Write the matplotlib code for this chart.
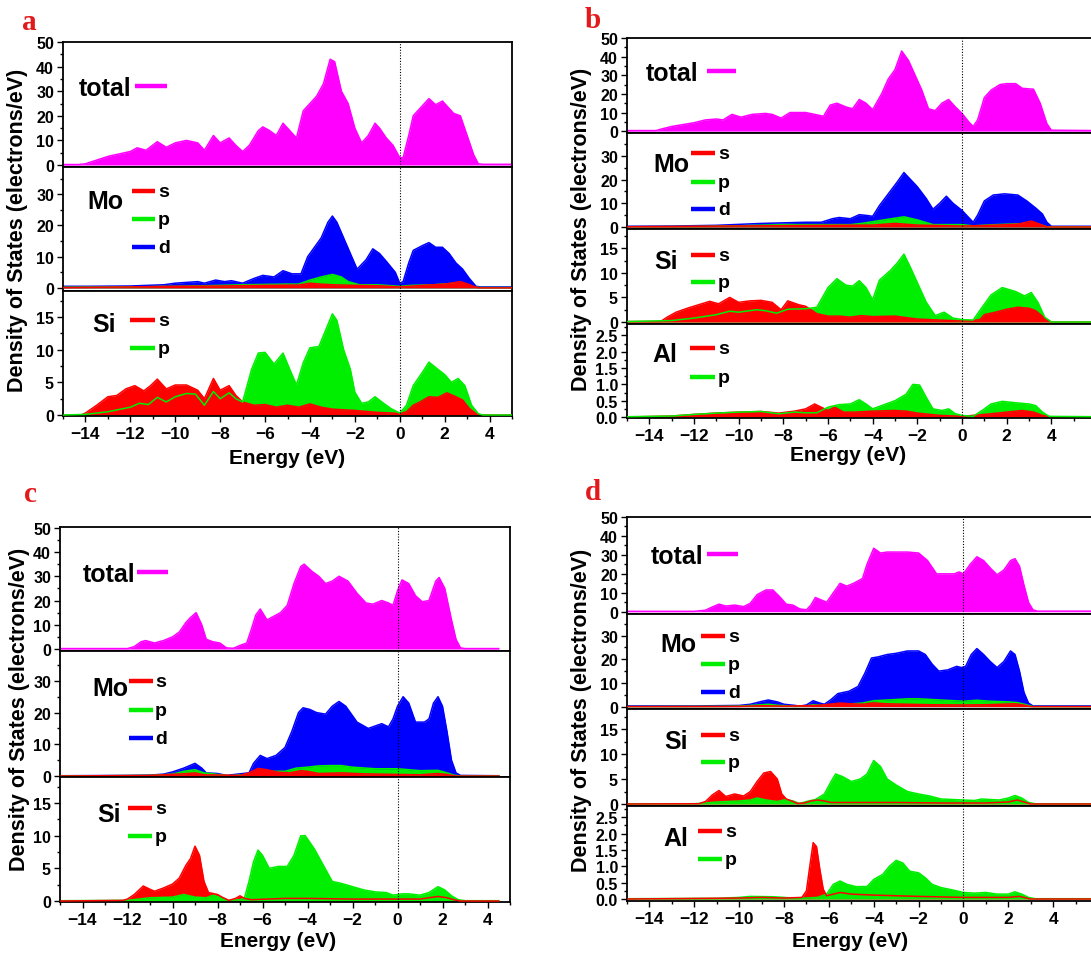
import matplotlib
matplotlib.use("Agg")
import matplotlib.pyplot as plt
from matplotlib.lines import Line2D
from matplotlib.ticker import MultipleLocator, FormatStrFormatter

plt.rcParams['font.family'] = ['Liberation Sans', 'DejaVu Sans']
plt.rcParams['font.weight'] = 'bold'

W, H = 1091, 954

# ---- data: (energy eV, DOS) ----
a_total = [(-15, 0.2), (-14.3, 0.2), (-14, 0.5), (-13.5, 2), (-13, 3.5), (-12.5, 4.5), (-12, 5.5), (-11.7, 7),
           (-11.3, 6), (-10.8, 9.5), (-10.4, 7.2), (-10, 9), (-9.5, 10), (-9, 9), (-8.7, 6), (-8.3, 12), (-8, 9),
           (-7.6, 11), (-7.3, 8), (-7, 5.5), (-6.7, 8), (-6.3, 14), (-6.1, 15.5), (-5.8, 14), (-5.5, 12),
           (-5.2, 17), (-4.9, 14), (-4.6, 11), (-4.3, 22), (-4, 25), (-3.7, 28), (-3.4, 33), (-3.1, 43),
           (-2.9, 42), (-2.6, 30), (-2.3, 25), (-2, 15), (-1.7, 9), (-1.4, 12), (-1.1, 17), (-0.9, 15),
           (-0.6, 11), (-0.3, 8), (0, 3), (0.15, 3), (0.4, 12), (0.6, 20), (1, 24), (1.3, 27), (1.6, 24.5),
           (1.9, 26), (2.2, 23), (2.4, 21), (2.7, 20), (3, 12), (3.3, 4), (3.5, 0.5), (3.7, 0.3), (5, 0.3)]
a_mo_d = [(-15, 0.5), (-14, 0.5), (-12, 0.6), (-10.5, 1.0), (-10, 1.5), (-9, 2), (-8.7, 1.5), (-8.2, 2.5),
          (-7.8, 2), (-7.5, 2.3), (-7, 1.5), (-6.5, 3), (-6.1, 4), (-5.6, 3.5), (-5.2, 5.5), (-4.8, 4.5),
          (-4.4, 4.5), (-4.1, 10), (-3.8, 13), (-3.5, 16), (-3.2, 21), (-3.0, 23), (-2.8, 21), (-2.5, 16),
          (-2.2, 11), (-1.9, 6), (-1.5, 9), (-1.2, 12.5), (-0.9, 11), (-0.6, 8.5), (-0.2, 5), (0, 1.5),
          (0.15, 2), (0.4, 8), (0.6, 12), (1.0, 13.5), (1.3, 14.5), (1.6, 13), (1.9, 13), (2.2, 11), (2.5, 8),
          (2.8, 6), (3.1, 3), (3.4, 0.5), (3.6, 0.3), (5, 0.3)]
a_mo_p = [(-15, 0.2), (-12, 0.3), (-10, 0.5), (-8, 0.8), (-7, 1), (-5, 1.2), (-4.5, 1.2), (-4, 2.5), (-3.5, 3.5),
          (-3, 4.3), (-2.6, 3.5), (-2.3, 2), (-1.8, 1), (-1, 1), (0, 0.5), (0.5, 0.8), (1.5, 1), (2.5, 1.5),
          (2.8, 1.2), (3.3, 0.3), (3.6, 0.1), (5, 0.1)]
a_mo_s = [(-15, 0.1), (-12, 0.3), (-10, 0.5), (-8, 0.6), (-6, 0.8), (-4.5, 0.9), (-4, 1.5), (-3.5, 1.2), (-3, 1),
          (-2, 0.8), (-1, 0.7), (0, 0.3), (1, 0.8), (2, 1.2), (2.7, 2), (3, 1.3), (3.4, 0.2), (3.6, 0), (5, 0)]
a_si_s = [(-15, 0), (-14.2, 0), (-14, 0.3), (-13.5, 1.5), (-13, 2.8), (-12.6, 3), (-12.2, 4), (-11.8, 4.5),
          (-11.4, 3.7), (-11.1, 4.5), (-10.8, 5.5), (-10.4, 4), (-10, 4.6), (-9.5, 4.6), (-9, 3.8), (-8.7, 2.5),
          (-8.3, 5.6), (-8, 3.8), (-7.6, 4.5), (-7.3, 3), (-7, 2), (-6.5, 1.5), (-6, 1.6), (-5.5, 1.2),
          (-5, 1.5), (-4.5, 1.2), (-4, 1.7), (-3.5, 1.2), (-3, 0.9), (-2, 0.7), (-1, 0.4), (-0.3, 0.3),
          (0, 0.2), (0.3, 0.5), (0.6, 1.5), (0.9, 2), (1.3, 2.8), (1.7, 2.7), (2.1, 3.4), (2.5, 2.8),
          (2.8, 2.3), (3.1, 1), (3.4, 0.2), (3.6, 0), (5, 0)]
a_si_p = [(-15, 0), (-14, 0.1), (-13, 0.5), (-12, 1.2), (-11.6, 1.8), (-11.2, 1.6), (-10.8, 2.7), (-10.4, 2),
          (-10, 2.8), (-9.5, 3.3), (-9.1, 3.2), (-8.7, 1.5), (-8.3, 3.6), (-8, 2.5), (-7.6, 3.4), (-7.3, 2.5),
          (-7, 2), (-6.6, 7), (-6.3, 9.5), (-6, 9.6), (-5.6, 7.8), (-5.2, 9.5), (-4.9, 7), (-4.6, 4.6),
          (-4.3, 8), (-4, 10.3), (-3.6, 10.5), (-3.3, 13), (-3, 15.5), (-2.8, 14.5), (-2.5, 10), (-2.2, 7),
          (-2, 3.5), (-1.7, 1.8), (-1.4, 2), (-1.1, 2.8), (-0.8, 2), (-0.4, 1), (0, 0.3), (0.3, 1.5),
          (0.6, 4.5), (1, 6.5), (1.3, 8.1), (1.7, 7), (2, 6.2), (2.3, 5), (2.6, 5.6), (2.9, 4.5), (3.2, 1.5),
          (3.5, 0.2), (3.7, 0), (5, 0)]

b_total = [(-15, 0.3), (-13.7, 0.3), (-13.5, 1), (-13, 2.5), (-12.5, 3.5), (-12, 4.5), (-11.5, 6), (-11, 6.5),
           (-10.7, 6), (-10.3, 9), (-9.9, 7.5), (-9.4, 9), (-8.8, 9.5), (-8.5, 9), (-8.1, 7), (-7.7, 10),
           (-7, 10), (-6.6, 9), (-6.2, 8), (-5.9, 14), (-5.6, 15), (-5.2, 13), (-4.9, 12), (-4.6, 17),
           (-4.3, 15), (-4, 11.5), (-3.6, 20), (-3.3, 28), (-3, 33), (-2.7, 43), (-2.4, 38), (-2.1, 30),
           (-1.8, 22), (-1.5, 12), (-1.2, 11), (-0.9, 15), (-0.6, 17), (-0.3, 13), (0, 9.5), (0.3, 5),
           (0.5, 2.5), (0.7, 6), (1, 18), (1.3, 22), (1.7, 25), (2, 25.5), (2.4, 25.5), (2.7, 23), (3.2, 22.5),
           (3.5, 15), (3.8, 4), (4.0, 0.5), (6, 0.3)]
b_mo_d = [(-15, 0.3), (-13, 0.4), (-11, 0.7), (-9, 1.5), (-7, 2), (-6.3, 2), (-5.8, 3.5), (-5.5, 4), (-5, 3.5),
          (-4.6, 5.2), (-4.2, 4.8), (-4, 4.5), (-3.7, 9), (-3.3, 14), (-2.9, 19), (-2.6, 23), (-2.3, 20),
          (-2, 17), (-1.6, 12), (-1.3, 7.5), (-1, 10), (-0.7, 13), (-0.4, 10), (0, 7), (0.3, 4), (0.5, 2),
          (0.7, 5), (1, 11), (1.4, 13.5), (1.9, 14), (2.5, 13.5), (2.9, 11), (3.3, 8), (3.6, 5.5), (3.8, 2),
          (4, 0.3), (6, 0.3)]
b_mo_p = [(-15, 0.1), (-12, 0.2), (-10, 0.5), (-8, 1), (-5, 1), (-4.5, 1.5), (-3.5, 3), (-2.6, 4.3), (-2, 3),
          (-1.3, 1), (0, 1), (0.5, 0.5), (1.5, 1), (3, 1.5), (3.2, 1.8), (3.5, 1), (3.8, 0.1), (6, 0.1)]
b_mo_s = [(-15, 0.1), (-12, 0.3), (-9, 0.5), (-6, 0.7), (-4, 0.8), (-3, 1.5), (-2, 0.8), (-1, 0.6), (0, 0.4),
          (1, 0.6), (2.5, 1.2), (3.1, 2.5), (3.4, 1.5), (3.8, 0), (6, 0)]
b_si_s = [(-15, 0.1), (-13.5, 0.1), (-13.2, 1), (-12.8, 2), (-12.3, 2.8), (-11.8, 3.5), (-11.3, 4.2),
          (-10.9, 3.7), (-10.4, 5), (-10, 4), (-9.5, 4.3), (-9, 4.4), (-8.5, 4), (-8.1, 2.5), (-7.8, 4.3),
          (-7.3, 3.5), (-7, 3.2), (-6.5, 1.7), (-6, 1.2), (-5.5, 1.2), (-5, 1), (-4.5, 1.3), (-4, 1.1),
          (-3, 1.2), (-2, 0.6), (-1, 0.4), (0, 0.2), (0.5, 0.3), (0.8, 0.5), (1, 1.5), (1.5, 2), (2, 2.6),
          (2.5, 3), (3, 2.8), (3.3, 2.3), (3.7, 0.8), (4, 0), (6, 0)]
b_si_p = [(-15, 0.1), (-13, 0.3), (-12, 0.8), (-11, 1.5), (-10.4, 2.2), (-10, 2), (-9.2, 2.5), (-8.8, 2.3),
          (-8.3, 1.8), (-7.8, 2.6), (-7, 2.7), (-6.5, 3), (-6, 7), (-5.6, 8.8), (-5.2, 7.5), (-4.9, 7.3),
          (-4.6, 8.4), (-4.3, 7), (-4, 4.5), (-3.7, 8.5), (-3.2, 10.5), (-2.9, 12), (-2.6, 13.8), (-2.3, 11),
          (-2, 8), (-1.6, 4), (-1.2, 1.3), (-0.8, 2), (-0.4, 0.8), (0, 0.5), (0.5, 0.4), (0.9, 3), (1.3, 5.5),
          (1.8, 7), (2.4, 6.2), (2.8, 5.3), (3.1, 6), (3.4, 4), (3.7, 1), (4, 0), (6, 0)]
b_al_s = [(-15, 0), (-13, 0.03), (-12, 0.08), (-11, 0.12), (-10, 0.15), (-9, 0.17), (-8.2, 0.12), (-7.5, 0.18),
          (-7, 0.25), (-6.6, 0.4), (-6.3, 0.3), (-6, 0.2), (-5.7, 0.3), (-5.3, 0.15), (-4.8, 0.15), (-4, 0.18),
          (-3, 0.2), (-2.5, 0.18), (-2, 0.12), (-1, 0.05), (0, 0.02), (1, 0.08), (2, 0.15), (2.7, 0.2),
          (3.2, 0.15), (3.6, 0.05), (4, 0), (6, 0)]
b_al_p = [(-15, 0.01), (-13, 0.03), (-12, 0.08), (-11, 0.12), (-10, 0.15), (-9, 0.17), (-8.2, 0.1),
          (-7.5, 0.15), (-7, 0.13), (-6.5, 0.13), (-6, 0.3), (-5.5, 0.38), (-5, 0.4), (-4.6, 0.53), (-4.3, 0.4),
          (-4, 0.25), (-3.6, 0.35), (-3, 0.5), (-2.5, 0.7), (-2.2, 1.0), (-1.9, 0.98), (-1.6, 0.6),
          (-1.3, 0.25), (-0.9, 0.2), (-0.6, 0.25), (-0.3, 0.1), (0, 0.05), (0.5, 0.02), (0.9, 0.2), (1.3, 0.4),
          (1.8, 0.48), (2.5, 0.43), (3, 0.4), (3.3, 0.35), (3.6, 0.15), (3.9, 0.02), (6, 0.01)]

c_total = [(-15, 0.2), (-12, 0.2), (-11.7, 1), (-11.4, 3), (-11.2, 3.5), (-10.8, 2.5), (-10.4, 3.5), (-10, 5),
           (-9.7, 7), (-9.4, 11), (-9.2, 13), (-8.95, 15), (-8.7, 10), (-8.5, 4), (-8.2, 3), (-7.9, 2.5),
           (-7.6, 0.5), (-7.3, 0.3), (-7, 1.5), (-6.7, 2.5), (-6.5, 8), (-6.3, 14), (-6.1, 16.5), (-5.8, 12),
           (-5.5, 13.5), (-5.2, 15), (-4.9, 18), (-4.6, 27), (-4.3, 34), (-4.15, 35), (-3.8, 32), (-3.5, 30),
           (-3.2, 27), (-2.9, 28), (-2.6, 30), (-2.2, 28), (-1.8, 23), (-1.4, 19), (-1.1, 18.5), (-0.7, 20),
           (-0.4, 19), (-0.2, 18), (0, 24), (0.2, 28.5), (0.5, 27), (0.8, 22), (1.1, 19.5), (1.4, 20),
           (1.7, 28), (1.85, 29.5), (2.1, 25), (2.4, 12), (2.6, 4), (2.8, 0.5), (3, 0.2), (4.5, 0.2)]
c_mo_d = [(-15, 0.1), (-12, 0.2), (-11, 0.3), (-10.4, 0.6), (-10, 1.3), (-9.5, 2.5), (-9, 4), (-8.7, 2.5),
          (-8.5, 1), (-8, 0.8), (-7.6, 0.2), (-7, 0.7), (-6.6, 1), (-6.4, 4), (-6.1, 6.5), (-5.8, 5.5),
          (-5.4, 6.5), (-5, 9), (-4.7, 14), (-4.4, 20), (-4.2, 21.5), (-3.9, 21), (-3.6, 20), (-3.2, 19.5),
          (-2.9, 22), (-2.6, 23.5), (-2.3, 22), (-1.8, 17), (-1.3, 15), (-0.9, 16), (-0.7, 16.5), (-0.4, 15.5),
          (-0.2, 18), (0, 22), (0.25, 25), (0.5, 23), (0.8, 17), (1.2, 17), (1.4, 18), (1.6, 23), (1.8, 25),
          (2, 22), (2.2, 14), (2.4, 5), (2.6, 1), (2.8, 0.2), (4.5, 0.1)]
c_mo_p = [(-15, 0), (-11, 0.2), (-10, 0.6), (-9.5, 1.5), (-9, 2), (-8.6, 1), (-8, 0.5), (-7.5, 0.1), (-7, 0.3),
          (-6.5, 0.8), (-6, 1.5), (-5, 1.5), (-4.5, 2.5), (-4, 2.8), (-3.5, 3.2), (-3, 3.3), (-2.5, 3.3),
          (-2, 2.8), (-1, 2.3), (0, 2.3), (1, 1.7), (1.8, 1.8), (2.2, 1), (2.5, 0.3), (2.8, 0), (4.5, 0)]
c_mo_s = [(-15, 0), (-11, 0.2), (-9.5, 0.7), (-9, 1), (-8.6, 0.4), (-7, 0.2), (-6.6, 1), (-6.2, 2.4), (-5.8, 2),
          (-5.3, 1.2), (-4.8, 1), (-4.3, 1.7), (-4, 1.5), (-3.5, 0.8), (-2.5, 1), (-1.5, 0.7), (0, 0.5),
          (1, 0.4), (1.8, 0.8), (2.2, 0.5), (2.6, 0), (4.5, 0)]
c_si_s = [(-15, 0), (-12.2, 0.1), (-12, 0.3), (-11.7, 1), (-11.3, 2.3), (-11, 1.8), (-10.8, 1.5), (-10.4, 2),
          (-10, 2.6), (-9.7, 3.5), (-9.4, 5.5), (-9.2, 6.5), (-9, 8.4), (-8.8, 7), (-8.6, 3), (-8.4, 1.3),
          (-8, 1), (-7.8, 0.6), (-7.5, 0.1), (-7.2, 0.4), (-7, 0.8), (-6.8, 0.4), (-6.5, 0.2), (-5, 0.4),
          (-4, 0.4), (-2, 0.3), (0, 0.3), (1, 0.3), (1.8, 0.7), (2.2, 0.5), (2.5, 0.2), (2.8, 0), (4.5, 0)]
c_si_p = [(-15, 0.05), (-12, 0.1), (-11.5, 0.3), (-11, 0.5), (-10, 0.6), (-9.5, 1), (-9, 0.6), (-8.5, 0.5),
          (-8.2, 0.9), (-7.8, 0.5), (-7.5, 0.1), (-7, 0.2), (-6.8, 0.5), (-6.6, 3), (-6.4, 6), (-6.2, 7.8),
          (-6, 7), (-5.7, 5), (-5.3, 5.3), (-4.9, 5.3), (-4.6, 7), (-4.3, 10), (-4.1, 10), (-3.7, 8),
          (-3.3, 5.5), (-2.9, 3), (-2.5, 2.7), (-2, 2.2), (-1.5, 1.7), (-1, 1.4), (-0.5, 1.3), (-0.2, 0.9),
          (0.2, 1.1), (0.5, 1.1), (1, 0.9), (1.4, 1.3), (1.8, 2.2), (2.1, 1.7), (2.4, 0.8), (2.7, 0.2),
          (3, 0.05), (4.5, 0.05)]

d_total = [(-15, 0.2), (-12, 0.2), (-11.5, 0.8), (-11.2, 2.5), (-10.9, 4), (-10.6, 3), (-10.2, 3.5), (-9.8, 2.7),
           (-9.5, 4.5), (-9.2, 9), (-8.8, 11.5), (-8.5, 11.5), (-8.2, 8), (-7.9, 4), (-7.6, 3.5), (-7.3, 1.5),
           (-7, 1), (-6.8, 3.5), (-6.6, 7.5), (-6.3, 6), (-6.1, 5), (-5.8, 10), (-5.5, 15), (-5.2, 13.5),
           (-4.9, 15), (-4.5, 17.5), (-4.3, 25), (-4, 33.5), (-3.7, 31), (-3.4, 31.5), (-3, 31.5), (-2.5, 31.5),
           (-2, 31), (-1.6, 27), (-1.2, 20), (-0.8, 20), (-0.4, 20), (-0.2, 21), (0, 20), (0.3, 25), (0.6, 29),
           (0.9, 27), (1.2, 23), (1.5, 19.5), (1.8, 22), (2.1, 27), (2.3, 28), (2.5, 24), (2.7, 14), (2.9, 5),
           (3.1, 1), (3.3, 0.3), (6, 0.3)]
d_mo_d = [(-15, 0.3), (-12, 0.3), (-11, 0.4), (-10, 0.5), (-9.5, 1), (-9, 2.2), (-8.7, 2.8), (-8.3, 2), (-8, 1),
          (-7.5, 0.5), (-7.3, 0.2), (-7, 0.7), (-6.7, 2.5), (-6.4, 1.5), (-6.2, 1), (-5.9, 3), (-5.6, 5.5),
          (-5.1, 6.5), (-4.7, 8.5), (-4.4, 14), (-4.1, 20.5), (-3.8, 21), (-3.4, 22), (-3, 22.5), (-2.5, 23.5),
          (-2, 23.5), (-1.7, 22), (-1.4, 18), (-1.1, 15), (-0.7, 15.5), (-0.3, 17), (-0.1, 16.5), (0.1, 17),
          (0.35, 22), (0.6, 24.5), (0.9, 22), (1.2, 19), (1.5, 16.5), (1.8, 19), (2.1, 23.5), (2.3, 22),
          (2.5, 15), (2.7, 6), (2.9, 1.5), (3.1, 0.3), (6, 0.3)]
d_mo_p = [(-15, 0), (-11, 0.1), (-10, 0.2), (-9, 0.8), (-8.7, 1), (-8.3, 0.6), (-7.5, 0.1), (-7, 0.3),
          (-6.7, 0.8), (-6.3, 0.5), (-6, 0.6), (-5, 1.2), (-4.5, 1.5), (-4, 2.5), (-3, 3), (-2.5, 3.3), (-2, 3.3),
          (-1, 2.8), (0, 2.3), (0.6, 2.7), (1.2, 2.3), (2, 2), (2.4, 1.7), (2.8, 0.8), (3.1, 0), (6, 0)]
d_mo_s = [(-15, 0), (-10, 0.1), (-9, 0.4), (-8, 0.2), (-6.5, 0.5), (-5.5, 1.5), (-5, 1.2), (-4.5, 1), (-4, 1.6),
          (-3.5, 1.2), (-2.5, 1), (-1.5, 0.8), (0, 0.7), (1, 0.8), (2.3, 1.2), (2.6, 0.8), (3, 0), (6, 0)]
d_si_s = [(-15, 0), (-11.8, 0.05), (-11.5, 0.5), (-11.2, 1.8), (-10.9, 2.7), (-10.6, 1.5), (-10.2, 2),
          (-9.8, 1.6), (-9.5, 2.5), (-9.2, 4.5), (-8.9, 6.2), (-8.6, 6.5), (-8.3, 5), (-8.1, 2), (-7.9, 1),
          (-7.6, 0.5), (-7.4, 0.1), (-7.1, 0.2), (-6.8, 0.6), (-6.5, 0.8), (-6.2, 0.6), (-5.9, 0.3), (-5, 0.3),
          (-3, 0.3), (-1, 0.2), (1, 0.2), (2, 0.4), (2.4, 0.8), (2.7, 0.4), (3, 0), (6, 0)]
d_si_p = [(-15, 0.05), (-12, 0.05), (-11.5, 0.2), (-11, 0.4), (-10, 0.6), (-9.5, 0.8), (-9.2, 1.2), (-8.8, 0.8),
          (-8.3, 0.5), (-7.9, 0.9), (-7.6, 0.6), (-7.3, 0.1), (-7, 0.5), (-6.6, 0.9), (-6.2, 2), (-5.9, 4.5),
          (-5.7, 6), (-5.4, 5.5), (-5, 4.5), (-4.6, 5), (-4.3, 6), (-4, 8.7), (-3.7, 7.5), (-3.4, 5), (-3, 3.8),
          (-2.5, 2.5), (-2, 2), (-1.5, 1.6), (-1, 1), (0, 0.8), (0.5, 0.7), (0.8, 1), (1.2, 0.9), (1.6, 0.8),
          (2, 1.2), (2.3, 1.7), (2.6, 1.2), (2.9, 0.3), (3.2, 0.05), (6, 0.05)]
d_al_s = [(-15, 0), (-10, 0.03), (-9, 0.05), (-8, 0.03), (-7.2, 0.05), (-7, 0.25), (-6.85, 1), (-6.7, 1.72),
          (-6.55, 1.6), (-6.4, 0.9), (-6.25, 0.3), (-6.1, 0.1), (-5.8, 0.15), (-5.5, 0.2), (-5, 0.15),
          (-4, 0.12), (-2, 0.08), (0, 0.05), (2, 0.05), (2.5, 0.08), (3, 0), (6, 0)]
d_al_p = [(-15, 0.01), (-11, 0.02), (-10, 0.05), (-9.5, 0.08), (-8.5, 0.07), (-8, 0.05), (-7.5, 0.02),
          (-7, 0.03), (-6.5, 0.05), (-6.1, 0.15), (-5.8, 0.45), (-5.5, 0.55), (-5.2, 0.45), (-4.8, 0.38),
          (-4.3, 0.38), (-4, 0.6), (-3.6, 0.75), (-3.3, 1), (-3, 1.18), (-2.7, 1.1), (-2.4, 0.85), (-2, 0.8),
          (-1.7, 0.65), (-1.4, 0.45), (-1, 0.35), (-0.5, 0.28), (0, 0.2), (0.5, 0.18), (1, 0.2), (1.5, 0.15),
          (2, 0.15), (2.3, 0.22), (2.6, 0.15), (2.9, 0.05), (3.2, 0.01), (6, 0.01)]

MAG, RED, GRN, BLU = '#ff00ff', '#ff0000', '#00ee00', '#0000ff'


def fx(px):
    return px / W


def fy(py):
    return 1 - py / H


def area(ax, curve, color, z, line=True, fill=True):
    e, v = zip(*curve)
    if fill:
        ax.fill_between(e, 0, v, color=color, lw=0, zorder=z)
    if line:
        ax.plot(e, v, color=color, lw=1.1, zorder=z + 0.5)


def leg_line(x0, x1, y, color):
    fig.add_artist(Line2D([fx(x0), fx(x1)], [fy(y), fy(y)], transform=fig.transFigure,
                          color=color, lw=3.2, solid_capstyle='butt'))


def big(x, y, s):
    fig.text(fx(x), fy(y), s, fontsize=18, fontweight='bold', ha='left', va='baseline')


def small(x, y, s):
    fig.text(fx(x), fy(y + 5), s, fontsize=14, fontweight='bold', ha='left', va='baseline')


def make_axes(left, right, edges, xlim, ylims, kinds):
    axs = []
    for i, (top, bot) in enumerate(zip(edges[:-1], edges[1:])):
        ax = fig.add_axes([fx(left), fy(bot), (right - left) / W, (bot - top) / H])
        ax.set_xlim(*xlim)
        ax.set_ylim(*ylims[i])
        for sp in ax.spines.values():
            sp.set_linewidth(1.3)
        k = kinds[i]
        if k == 'total':
            ax.yaxis.set_major_locator(MultipleLocator(10))
            ax.yaxis.set_minor_locator(MultipleLocator(5))
        elif k == 'mo':
            ax.set_yticks([0, 10, 20, 30])
            ax.yaxis.set_minor_locator(MultipleLocator(5))
        elif k == 'si':
            ax.set_yticks([0, 5, 10, 15])
            ax.yaxis.set_minor_locator(MultipleLocator(2.5))
        else:
            ax.set_yticks([0, 0.5, 1.0, 1.5, 2.0, 2.5])
            ax.yaxis.set_minor_locator(MultipleLocator(0.25))
            ax.yaxis.set_major_formatter(FormatStrFormatter('%.1f'))
        ax.tick_params(axis='y', which='both', direction='out', left=True, right=False,
                       labelsize=11.5, width=1.0, pad=2.5)
        ax.tick_params(axis='y', which='major', length=4)
        ax.tick_params(axis='y', which='minor', length=2.5)
        ax.set_xticks(range(-14, 5, 2))
        ax.xaxis.set_minor_locator(MultipleLocator(1))
        last = i == len(edges) - 2
        ax.tick_params(axis='x', which='both', direction='out', bottom=last, top=False,
                       labelbottom=last, labelsize=12.5, width=1.0)
        ax.tick_params(axis='x', which='major', length=4)
        ax.tick_params(axis='x', which='minor', length=2.5)
        ax.axvline(0, color='k', ls=(0, (1, 1.5)), lw=0.8, zorder=10)
        axs.append(ax)
    return axs


fig = plt.figure(figsize=(W / 100, H / 100), dpi=100)

# ---- panel a ----
ax = make_axes(63, 512, [43, 168, 292, 417], (-15, 5),
               [(-0.8, 50), (-1, 38.7), (-0.15, 19)], ['total', 'mo', 'si'])
area(ax[0], a_total, MAG, 1)
area(ax[1], a_mo_d, BLU, 1)
area(ax[1], a_mo_p, GRN, 2)
area(ax[1], a_mo_s, RED, 3)
area(ax[2], a_si_p, GRN, 1, line=False)
area(ax[2], a_si_s, RED, 2)
area(ax[2], a_si_p, GRN, 3, fill=False)

# ---- panel b ----
ax = make_axes(627, 1096, [39, 134, 230, 325, 419], (-15, 6),
               [(-1, 50), (-0.85, 39.7), (-0.4, 18.9), (-0.03, 2.85)], ['total', 'mo', 'si', 'al'])
area(ax[0], b_total, MAG, 1)
area(ax[1], b_mo_d, BLU, 1)
area(ax[1], b_mo_p, GRN, 2)
area(ax[1], b_mo_s, RED, 3)
area(ax[2], b_si_p, GRN, 1, line=False)
area(ax[2], b_si_s, RED, 2)
area(ax[2], b_si_p, GRN, 3, fill=False)
area(ax[3], b_al_p, GRN, 1, line=False)
area(ax[3], b_al_s, RED, 2)
area(ax[3], b_al_p, GRN, 3, fill=False)

# ---- panel c ----
ax = make_axes(60, 510, [528, 652, 778, 903], (-15, 5),
               [(-0.8, 50.3), (-0.3, 39.4), (-0.15, 19)], ['total', 'mo', 'si'])
area(ax[0], c_total, MAG, 1)
area(ax[1], c_mo_d, BLU, 1)
area(ax[1], c_mo_p, GRN, 2)
area(ax[1], c_mo_s, RED, 3)
area(ax[2], c_si_s, RED, 1, line=False)
area(ax[2], c_si_p, GRN, 2)
area(ax[2], c_si_s, RED, 3, fill=False)

# ---- panel d ----
ax = make_axes(627, 1098, [518, 615, 710, 807, 902], (-15, 6),
               [(-1.2, 50), (-1, 39.1), (-0.4, 19), (-0.06, 2.84)], ['total', 'mo', 'si', 'al'])
area(ax[0], d_total, MAG, 1)
area(ax[1], d_mo_d, BLU, 1)
area(ax[1], d_mo_p, GRN, 2)
area(ax[1], d_mo_s, RED, 3)
area(ax[2], d_si_s, RED, 1, line=False)
area(ax[2], d_si_p, GRN, 2)
area(ax[2], d_si_s, RED, 3, fill=False)
area(ax[3], d_al_s, RED, 1, line=False)
area(ax[3], d_al_p, GRN, 2)
area(ax[3], d_al_s, RED, 3, fill=False)

# ---- in-plot labels ----
# panel a
big(79, 96, 'total'); leg_line(135, 167, 87, MAG)
big(87, 209, 'Mo')
for yy, c, s in [(192, RED, 's'), (220, GRN, 'p'), (248, BLU, 'd')]:
    leg_line(132, 155, yy, c); small(158, yy, s)
big(92, 332, 'Si')
for yy, c, s in [(321, RED, 's'), (349, GRN, 'p')]:
    leg_line(130, 155, yy, c); small(158, yy, s)
# panel b
big(646, 81, 'total'); leg_line(707, 736, 72, MAG)
big(653, 172, 'Mo')
for yy, c, s in [(154, RED, 's'), (183, GRN, 'p'), (210, BLU, 'd')]:
    leg_line(691, 715, yy, c); small(718, yy, s)
big(654, 269, 'Si')
for yy, c, s in [(256, RED, 's'), (283, GRN, 'p')]:
    leg_line(691, 715, yy, c); small(718, yy, s)
big(652, 362, 'Al')
for yy, c, s in [(349, RED, 's'), (378, GRN, 'p')]:
    leg_line(690, 715, yy, c); small(718, yy, s)
# panel c
big(83, 582, 'total'); leg_line(137, 168, 573, MAG)
big(92, 696, 'Mo')
for yy, c, s in [(682, RED, 's'), (711, GRN, 'p'), (739, BLU, 'd')]:
    leg_line(129, 153, yy, c); small(155, yy, s)
big(97, 822, 'Si')
for yy, c, s in [(809, RED, 's'), (837, GRN, 'p')]:
    leg_line(128, 152, yy, c); small(155, yy, s)
# panel d
big(651, 564, 'total'); leg_line(707, 738, 555, MAG)
big(660, 652, 'Mo')
for yy, c, s in [(637, RED, 's'), (665, GRN, 'p'), (693, BLU, 'd')]:
    leg_line(701, 725, yy, c); small(728, yy, s)
big(664, 749, 'Si')
for yy, c, s in [(736, RED, 's'), (763, GRN, 'p')]:
    leg_line(701, 725, yy, c); small(728, yy, s)
big(663, 846, 'Al')
for yy, c, s in [(832, RED, 's'), (860, GRN, 'p')]:
    leg_line(698, 722, yy, c); small(725, yy, s)

# ---- axis titles and panel letters ----
for x, y in [(287, 458), (848, 456), (278, 942), (850, 942)]:
    fig.text(fx(x), fy(y), 'Energy (eV)', fontsize=15, fontweight='bold', ha='center', va='center')
for x, y in [(18, 230), (582, 229), (20, 709), (582, 710)]:
    fig.text(fx(x), fy(y), 'Density of States (electrons/eV)', fontsize=15.5, fontweight='bold',
             rotation=90, ha='center', va='center')
for x, y, s in [(29, 23, 'a'), (593, 21, 'b'), (30, 495, 'c'), (593, 493, 'd')]:
    fig.text(fx(x), fy(y), s, fontsize=21, fontweight='bold', color='#e31a1c',
             family='Liberation Serif', ha='center', va='center')

fig.savefig('out.png', dpi=100)
